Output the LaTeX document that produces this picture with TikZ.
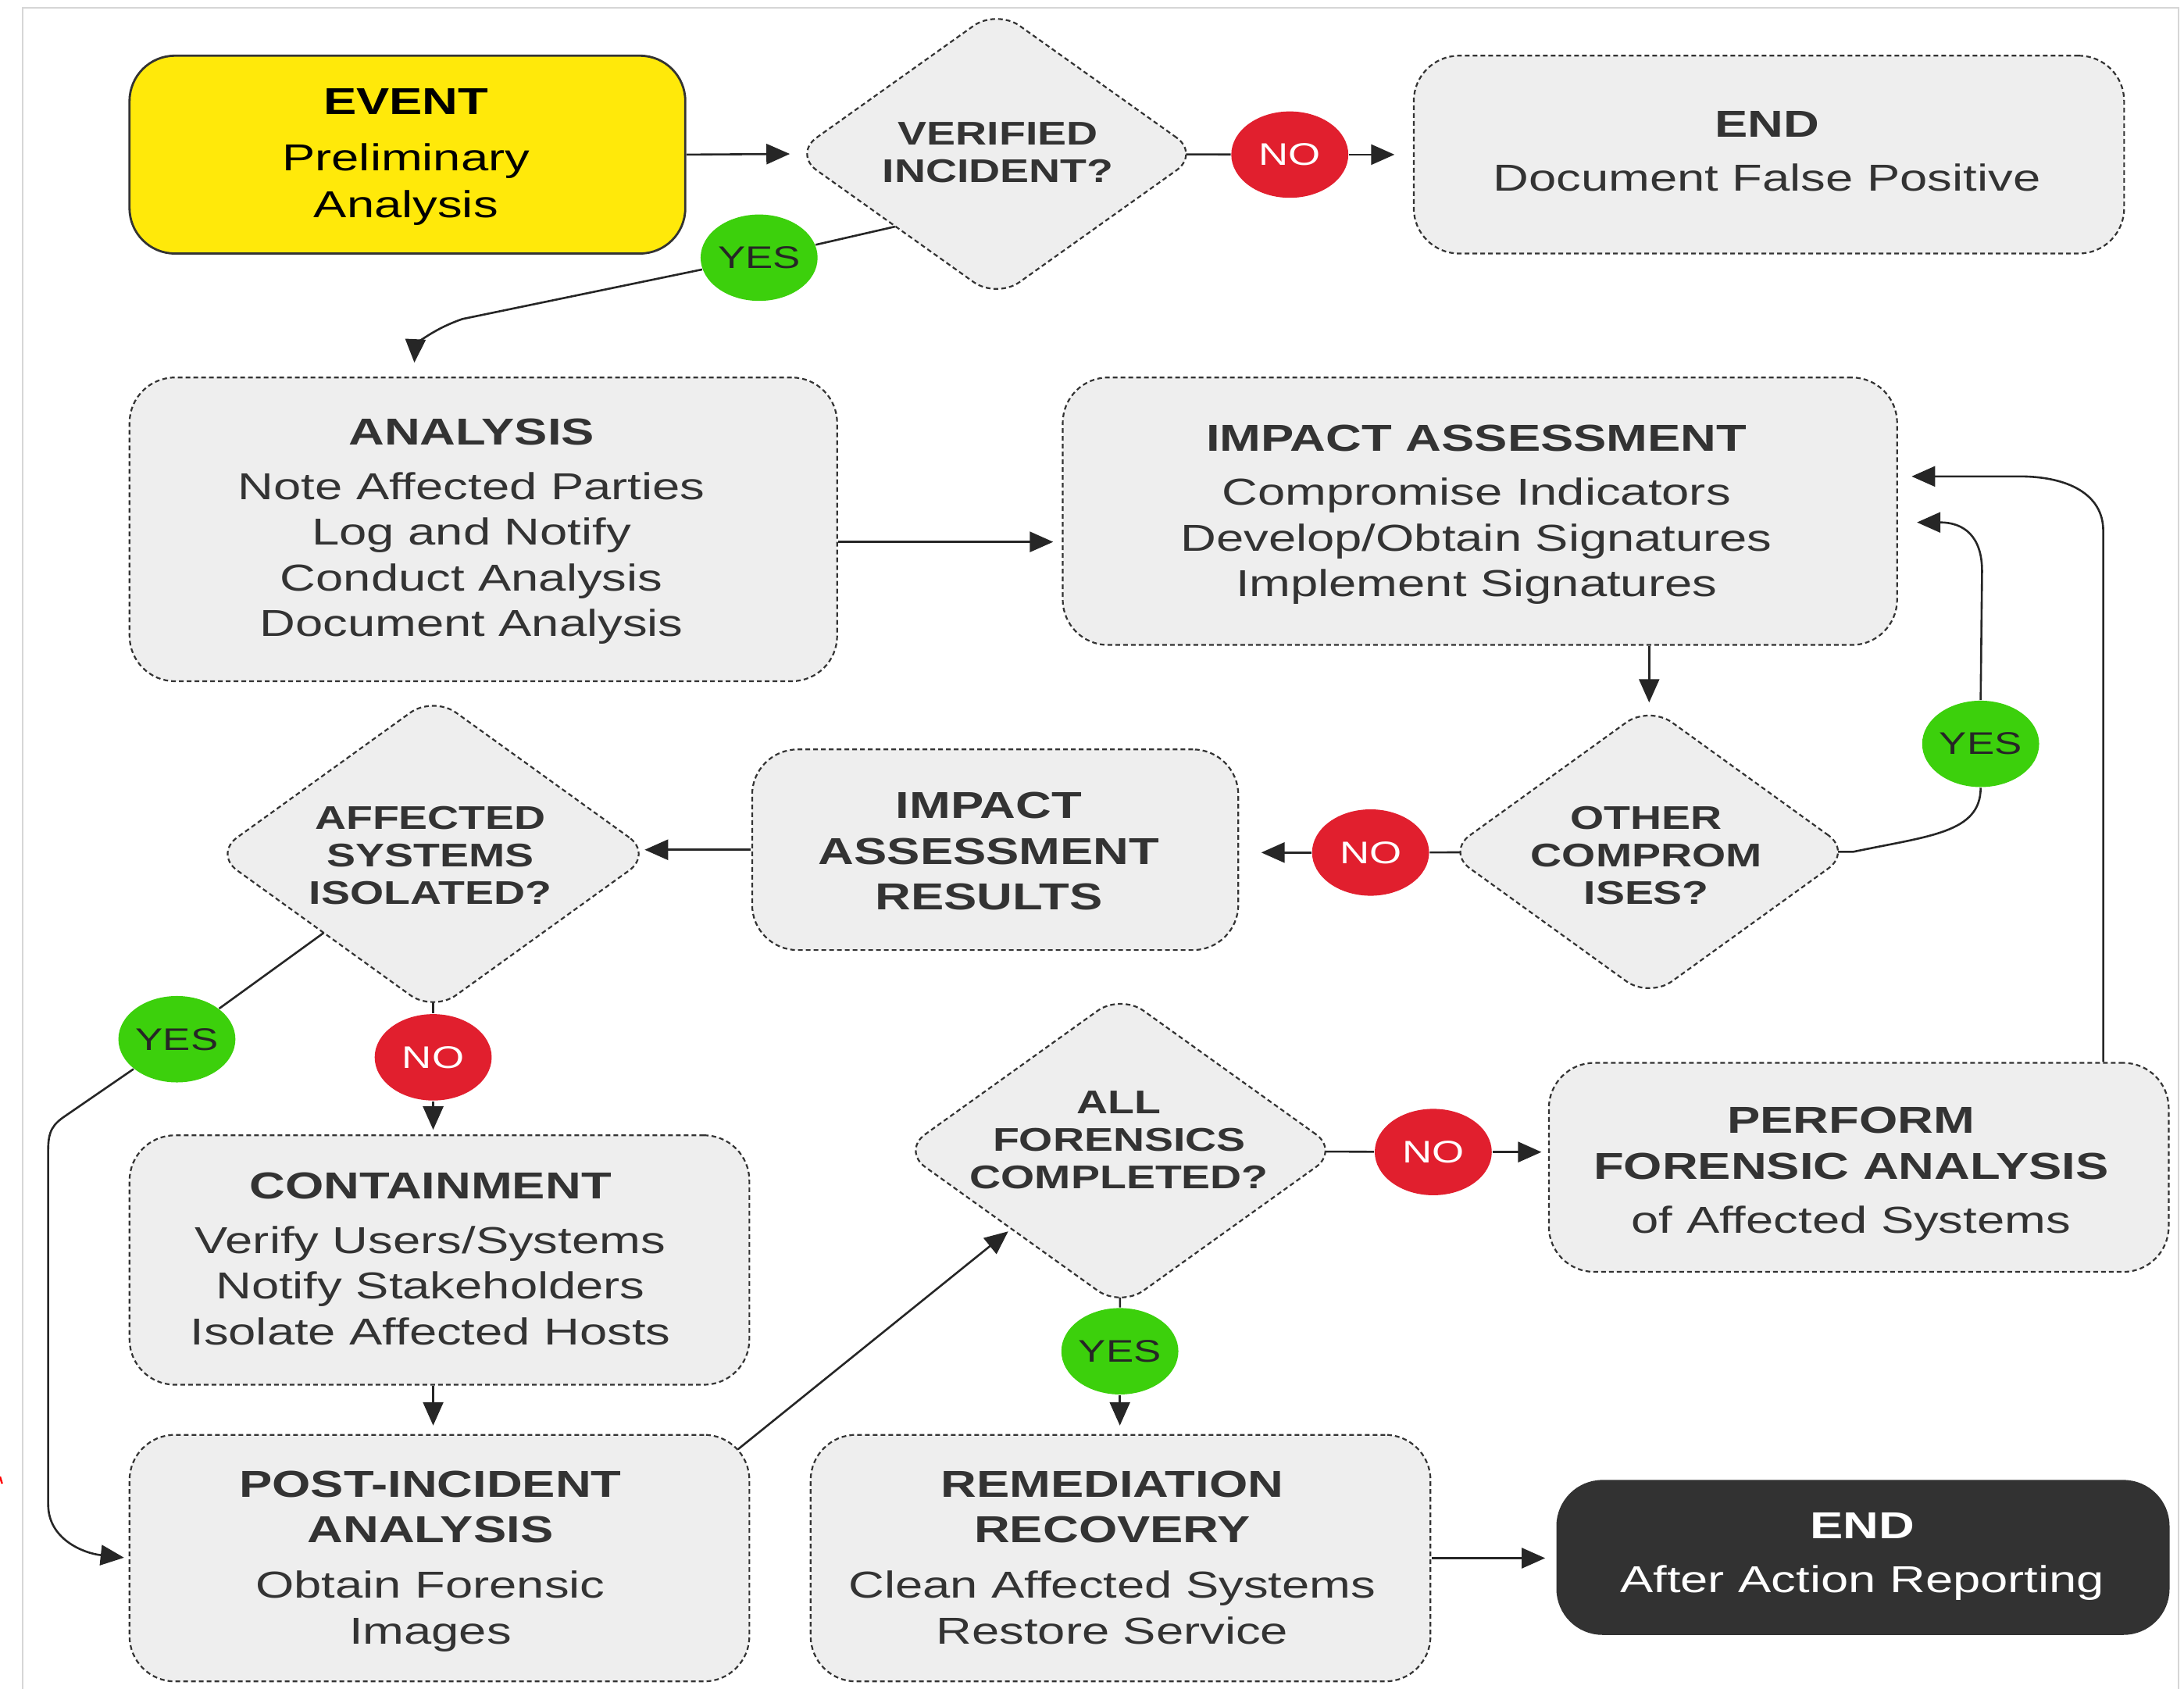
\documentclass[tikz,border=0pt]{standalone}
\usepackage{fontspec}
\setmainfont[FakeStretch=1.32]{Liberation Sans}
\usetikzlibrary{arrows.meta,shapes.geometric,calc,backgrounds}
\definecolor{evyellow}{HTML}{FFE90A}
\definecolor{nored}{HTML}{E11F2E}
\definecolor{yesgreen}{HTML}{3CD00C}
\definecolor{boxgray}{HTML}{EEEEEE}
\definecolor{ink}{HTML}{333333}
\definecolor{darkbox}{HTML}{323232}
\definecolor{framegray}{HTML}{D6D6D6}
\newlength\unitpx
\setlength\unitpx{0.44579pt}

\begin{document}
\begin{tikzpicture}[x=\unitpx, y=-\unitpx,
  stepbox/.style={rectangle, xscale=1.32, transform shape, rounded corners=14.5pt,
    inner sep=0pt, fill=boxgray, draw=ink, line width=0.55pt, dash pattern=on 1.5pt off 1pt},
  bwh/.style 2 args={minimum width=#1*\unitpx/1.32, minimum height=#2*\unitpx},
  decision/.style={diamond, xscale=1.4, transform shape, rounded corners=9pt,
    inner sep=0pt, fill=boxgray, draw=ink, line width=0.55pt, dash pattern=on 1.5pt off 1pt},
  dwh/.style 2 args={minimum width=#1*\unitpx/1.4, minimum height=#2*\unitpx},
  badge/.style={ellipse, minimum width=84*\unitpx, minimum height=62*\unitpx, inner sep=0pt,
    font=\fontsize{10}{12}\selectfont},
  nobadge/.style={badge, fill=nored, text=white},
  yesbadge/.style={badge, fill=yesgreen, text=black!85},
  boxtxt/.style={anchor=north, inner sep=0pt, align=center, text=ink,
    font=\fontsize{12}{14.6}\selectfont},
  decitxt/.style={anchor=north, inner sep=0pt, align=center, text=ink,
    font=\bfseries\fontsize{10.5}{12}\selectfont},
  conn/.style={line width=0.65pt, draw=black!85},
  arr/.style={conn, -{Triangle[length=7.5pt,width=6.5pt]}},
]
\useasboundingbox (0,0) rectangle (1568,1212);

% outer frame
\draw[framegray, line width=0.5pt] (16,5.6) rectangle (1564,1240);
\draw[red, line width=0.6pt] (0,1060) -- (1.5,1065);

% process boxes
\node[stepbox, bwh={399}{142}, fill=evyellow, draw=black!80, solid, line width=0.7pt] (event) at (292.5,111) {};
\node[stepbox, bwh={510}{142}] (endfp) at (1270,111) {};
\node[stepbox, bwh={508}{218}] (analysis) at (347,380) {};
\node[stepbox, bwh={599}{192}] (impact) at (1062.5,367) {};
\node[stepbox, bwh={349}{144}] (results) at (714.5,610) {};
\node[stepbox, bwh={445}{179}] (containment) at (315.5,904.5) {};
\node[stepbox, bwh={445}{177}] (pia) at (315.5,1118.5) {};
\node[stepbox, bwh={445}{150}] (perform) at (1334.5,838) {};
\node[stepbox, bwh={445}{177}] (remed) at (804.5,1118.5) {};
\node[stepbox, bwh={439}{110}, fill=darkbox, draw=darkbox, solid] (endaar) at (1337.5,1118) {};

% decisions
\node[decision, dwh={292}{208}] (verified) at (715.5,110.5) {};
\node[decision, dwh={291}{210}] (other) at (1184,611.5) {};
\node[decision, dwh={315}{227}] (affected) at (311,613) {};
\node[decision, dwh={314}{225}] (allfor) at (804.5,826) {};

% box texts
\node[boxtxt, text=black] (event-t) at (291.5,63) {\textbf{EVENT}\\[3.4pt]Preliminary\\[0.6pt]Analysis};
\node[boxtxt] (endfp-t) at (1268.5,79.4) {\textbf{END}\\[2.8pt]Document False Positive};
\node[boxtxt] (analysis-t) at (338.5,300.4) {\textbf{ANALYSIS}\\[2.8pt]Note Affected Parties\\Log and Notify\\Conduct Analysis\\Document Analysis};
\node[boxtxt] (impact-t) at (1060,304.4) {\textbf{IMPACT ASSESSMENT}\\[2.8pt]Compromise Indicators\\Develop/Obtain Signatures\\Implement Signatures};
\node[boxtxt, font=\bfseries\fontsize{12}{14.6}\selectfont] (results-t) at (710,568.4) {IMPACT\\ASSESSMENT\\RESULTS};
\node[boxtxt] (containment-t) at (309,841.4) {\textbf{CONTAINMENT}\\[2.8pt]Verify Users/Systems\\Notify Stakeholders\\Isolate Affected Hosts};
\node[boxtxt] (pia-t) at (309,1055.4) {\textbf{POST-INCIDENT}\\\textbf{ANALYSIS}\\[3.2pt]Obtain Forensic\\Images};
\node[boxtxt] (perform-t) at (1329,794.4) {\textbf{PERFORM}\\\textbf{FORENSIC ANALYSIS}\\[2.8pt]of Affected Systems};
\node[boxtxt] (remed-t) at (798.5,1055.4) {\textbf{REMEDIATION}\\\textbf{RECOVERY}\\[3.2pt]Clean Affected Systems\\Restore Service};
\node[boxtxt, text=white] (endaar-t) at (1337,1085.4) {\textbf{END}\\[2.8pt]After Action Reporting};

% decision texts
\node[decitxt] (verified-t) at (716.5,87.5) {VERIFIED\\INCIDENT?};
\node[decitxt] (other-t) at (1182,578.5) {OTHER\\COMPROM\\ISES?};
\node[decitxt] (affected-t) at (309,578.5) {AFFECTED\\SYSTEMS\\ISOLATED?};
\node[decitxt] (allfor-t) at (803.5,782.5) {ALL\\FORENSICS\\COMPLETED?};

% answer badges
\node[nobadge] (no1) at (926,111) {NO};
\node[yesbadge] (yes1) at (545,185) {YES};
\node[yesbadge] (yes2) at (1422,534) {YES};
\node[nobadge] (no2) at (984,612) {NO};
\node[yesbadge] (yes3) at (127,746) {YES};
\node[nobadge] (no3) at (311,759) {NO};
\node[nobadge] (no4) at (1029,827) {NO};
\node[yesbadge] (yes4) at (804,970) {YES};

% lines leaving a decision start behind its filled shape
\begin{scope}[on background layer]
\draw[conn] (verified.center) -- (no1);
\draw[conn] (verified.center) -- (verified.south west) -- (yes1);
\draw[conn] (other.center) -- (no2);
\draw[conn] (other.center) -- (other.east) .. controls (1385,600) and (1422,598) .. (yes2.south);
\draw[conn] (affected.center) -- (affected.south west) -- (yes3);
\draw[conn] (affected.center) -- (no3);
\draw[conn] (allfor.center) -- (no4);
\draw[conn] (allfor.center) -- (yes4);
\end{scope}

% arrows
\draw[arr, shorten >=0.7pt] (event.east) -- (verified.west);
\draw[arr, shorten >=5.8pt] (no1) -- (endfp.west);
\draw[arr, shorten >=4.5pt] (yes1) -- (332,229) .. controls (306,238) and (298,250) .. ([shift={(-50,0)}]analysis.north);
\draw[arr, shorten >=2.7pt] ([shift={(0,9)}]analysis.east) -- ([shift={(0,22)}]impact.west);
\draw[arr, shorten >=0.7pt] (other.north |- impact.south) -- (other.north);
\draw[arr, shorten >=7pt] (no2) -- (no2 -| results.east);
\draw[arr, shorten >=6pt] (yes2.north) -- (1423,410) .. controls (1423,385) and (1410,375) .. ([shift={(0,8)}]impact.east);
\draw[arr, shorten >=4.3pt] ([shift={(175.5,0)}]perform.north) -- (1510,381) .. controls (1510,355) and (1485,342) .. (1450,342) -- ([shift={(0,-25)}]impact.east);
\draw[arr, shorten >=-2.9pt] (results.west) -- (results.west -| affected.east);
\draw[arr, shorten >=1.4pt] (yes3) -- (47,801) .. controls (38,807) and (34.6,812) .. (34.6,825) -- (34.6,1080) .. controls (34.6,1105) and (60,1115) .. (pia.west);
\draw[arr, shorten >=1.5pt] (no3) -- (no3 |- containment.north);
\draw[arr, shorten >=2.7pt] (no3 |- containment.south) -- (no3 |- pia.north);
\draw[arr, shorten >=1pt] ([shift={(-9,11)}]pia.north east) -- (allfor.south west);
\draw[arr, shorten >=2pt] (no4) -- (no4 -| perform.west);
\draw[arr, shorten >=2.7pt] (yes4) -- (yes4 |- remed.north);
\draw[arr, shorten >=3.5pt] (remed.east) -- (remed.east -| endaar.west);
\end{tikzpicture}
\end{document}
